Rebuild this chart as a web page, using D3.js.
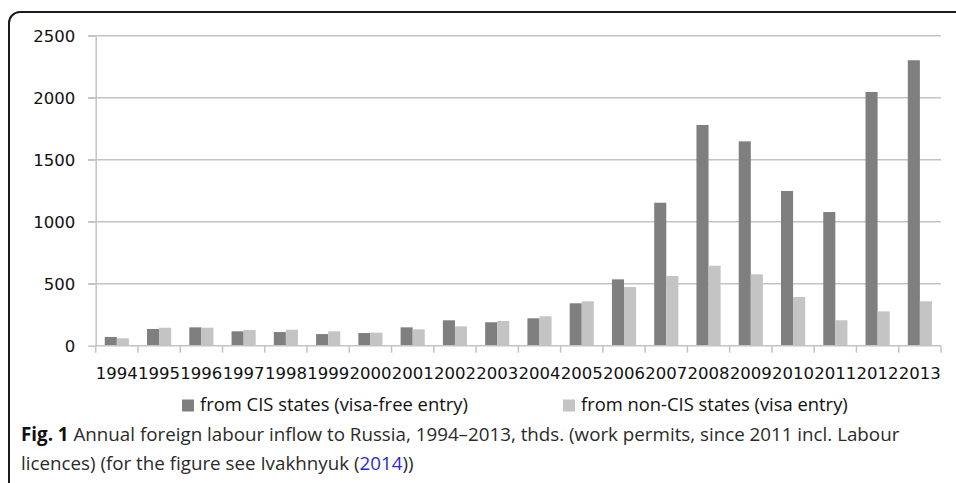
<!DOCTYPE html>
<html>
<head>
<meta charset="utf-8">
<script src="https://cdn.jsdelivr.net/npm/d3@7"></script>
<style>
  html, body { margin: 0; padding: 0; background: #fff; }
  svg { display: block; }
</style>
</head>
<body>
<svg id="chart" width="956" height="483"></svg>
<script>
// Annual foreign labour inflow to Russia, thousands of work permits
const years = ["1994","1995","1996","1997","1998","1999","2000","2001","2002","2003",
               "2004","2005","2006","2007","2008","2009","2010","2011","2012","2013"];
const cisValues    = [70, 135, 148, 116, 110, 94, 102, 148, 205, 189,
                      221, 342, 535, 1153, 1780, 1648, 1248, 1078, 2046, 2302];
const nonCisValues = [60, 145, 145, 127, 129, 116, 105, 132, 156, 199,
                      237, 358, 473, 562, 645, 576, 393, 205, 277, 358];
const yTicks = [0, 500, 1000, 1500, 2000, 2500];
const seriesNames = ["from CIS states (visa-free entry)", "from non-CIS states (visa entry)"];
const seriesColors = ["#7f7f7f", "#c4c4c4"];
const captionBold = "Fig. 1";
const captionLine1 = " Annual foreign labour inflow to Russia, 1994\u20132013, thds. (work permits, since 2011 incl. Labour";
const captionLine2a = "licences) (for the figure see Ivakhnyuk (";
const captionRef = "2014";
const captionLine2b = "))";

const svg = d3.select("#chart");
const W = 956, H = 483;
const plot = { left: 95.7, right: 941, top: 35.7, bottom: 345.7 };
const tickFont = "'DejaVu Sans', sans-serif";
const textFont = "'Open Sans', sans-serif";

// Outer frame: left and top rules with a rounded corner
svg.append("path")
  .attr("d", `M9,${H} V23 A11,11 0 0 1 20,12 H${W}`)
  .attr("fill", "none")
  .attr("stroke", "#1b1b1b")
  .attr("stroke-width", 2);

const y = d3.scaleLinear().domain([0, 2500]).range([plot.bottom, plot.top]);
const x = d3.scaleBand().domain(years).range([plot.left, plot.right]).padding(0);
// Two bars per category, gap between clusters 150% of a bar width
const barW = x.bandwidth() / 3.5;
const xs = d3.scaleBand().domain([0, 1])
  .range([barW * 0.75, barW * 0.75 + 2 * barW]).padding(0);

// Horizontal gridlines (with short tick stubs left of the axis)
svg.append("g").selectAll("line")
  .data(yTicks.filter(d => d > 0))
  .join("line")
  .attr("x1", plot.left - 7.5).attr("x2", plot.right)
  .attr("y1", d => y(d)).attr("y2", d => y(d))
  .attr("stroke", "#c3c3c3").attr("stroke-width", 1.5);

// Y axis with labels
const yAxis = svg.append("g")
  .attr("transform", `translate(${plot.left},0)`)
  .call(d3.axisLeft(y).tickValues(yTicks).tickFormat(d3.format("d"))
    .tickSize(7.5).tickSizeOuter(0).tickPadding(13));
yAxis.select(".domain").attr("stroke", "#c3c3c3").attr("stroke-width", 1.5);
yAxis.selectAll(".tick line").attr("stroke", "#c3c3c3").attr("stroke-width", 1.5);
yAxis.selectAll("text")
  .attr("font-family", tickFont).attr("font-size", 16.5)
  .attr("fill", "#111").attr("dy", "0.37em");

// Bars
const series = [cisValues, nonCisValues];
series.forEach((vals, si) => {
  svg.append("g").selectAll("rect")
    .data(years.map((yr, i) => ({ yr, v: vals[i] })))
    .join("rect")
    .attr("x", d => x(d.yr) + xs(si))
    .attr("width", xs.bandwidth())
    .attr("y", d => y(d.v))
    .attr("height", d => y(0) - y(d.v))
    .attr("fill", seriesColors[si]);
});

// X axis baseline and category boundary ticks
const xAxis = svg.append("g");
xAxis.append("line")
  .attr("x1", plot.left).attr("x2", plot.right)
  .attr("y1", y(0)).attr("y2", y(0))
  .attr("stroke", "#c3c3c3").attr("stroke-width", 1.5);
xAxis.selectAll("line.bt")
  .data(d3.range(years.length + 1))
  .join("line").attr("class", "bt")
  .attr("x1", i => plot.left + i * x.bandwidth())
  .attr("x2", i => plot.left + i * x.bandwidth())
  .attr("y1", y(0)).attr("y2", y(0) + 7)
  .attr("stroke", "#c3c3c3").attr("stroke-width", 1.5);
xAxis.selectAll("text")
  .data(years)
  .join("text")
  .attr("x", d => x(d) + x.bandwidth() / 2)
  .attr("y", 379)
  .attr("text-anchor", "middle")
  .attr("font-family", tickFont).attr("font-size", 16.5)
  .attr("fill", "#111")
  .text(d => d);

// Legend
const legendItems = [
  { sx: 182, tx: 200, width: 268 },
  { sx: 563, tx: 581, width: 267 }
];
const legend = svg.append("g");
legendItems.forEach((it, i) => {
  legend.append("rect")
    .attr("x", it.sx).attr("y", 399.5).attr("width", 12).attr("height", 12)
    .attr("fill", seriesColors[i]);
  const t = legend.append("text")
    .attr("x", it.tx).attr("y", 411)
    .attr("font-family", textFont).attr("font-size", 18)
    .attr("fill", "#111")
    .text(seriesNames[i]);
  const w = t.node().getComputedTextLength();
  t.attr("font-size", 18 * it.width / w);
});

// Caption, set in a condensed style
const cap = svg.append("g").attr("fill", "#2a2a2a")
  .attr("font-family", textFont).attr("font-size", 19);
const l1 = cap.append("text").attr("y", 0);
l1.append("tspan").attr("font-weight", "bold").attr("fill", "#111").text(captionBold);
l1.append("tspan").text(captionLine1);
const l2 = cap.append("text").attr("y", 0);
l2.append("tspan").text(captionLine2a);
l2.append("tspan").attr("fill", "#2b2bd6").text(captionRef);
l2.append("tspan").text(captionLine2b);
const sx = (900 - 21) / l1.node().getComputedTextLength();
l1.attr("transform", `translate(21,441) scale(${sx},1)`);
l2.attr("transform", `translate(21,470) scale(${sx},1)`);
</script>
</body>
</html>
